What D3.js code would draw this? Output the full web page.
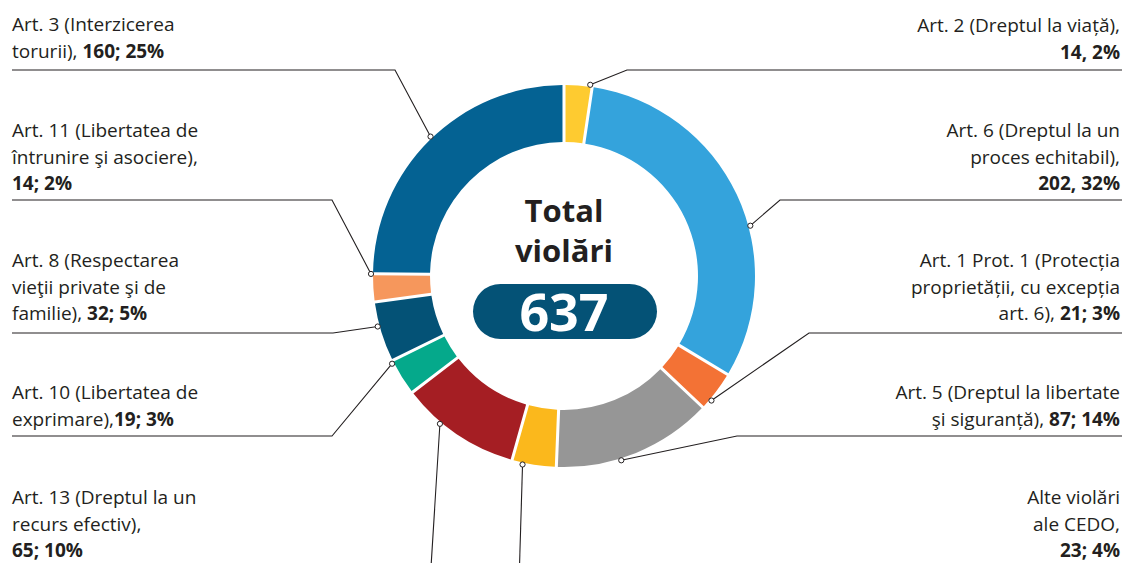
<!DOCTYPE html>
<html>
<head>
<meta charset="utf-8">
<script src="https://cdn.jsdelivr.net/npm/d3@7"></script>
<style>
  body { margin: 0; background: #fff; }
  svg { display: block; }
  text { font-family: "Open Sans", Lato, sans-serif; fill: #231f20; }
</style>
</head>
<body>
<div id="chart-area"></div>
<script>
// data, clockwise from 12 o'clock
const categories = ["Art. 2", "Art. 6", "Art. 1 Prot. 1", "Art. 5", "Alte violări",
                    "Art. 13", "Art. 10", "Art. 8", "Art. 11", "Art. 3"];
const values = [14, 202, 21, 87, 23, 65, 19, 32, 14, 160];
const colors = ["#fecb30", "#34a3dc", "#f37235", "#969696", "#fbb81c",
                "#a51e23", "#05a98b", "#045276", "#f6975c", "#046293"];
// label lines; the last entry is the text that goes before the bold value
const labelLines = [
  ["Art. 2 (Dreptul la viață),", ""],
  ["Art. 6 (Dreptul la un", "proces echitabil),", ""],
  ["Art. 1 Prot. 1 (Protecția", "proprietății, cu excepția", "art. 6), "],
  ["Art. 5 (Dreptul la libertate", "şi siguranță), "],
  ["Alte violări", "ale CEDO,", ""],
  ["Art. 13 (Dreptul la un", "recurs efectiv),", ""],
  ["Art. 10 (Libertatea de", "exprimare),"],
  ["Art. 8 (Respectarea", "vieţii private şi de", "familie), "],
  ["Art. 11 (Libertatea de", "întrunire şi asociere),", ""],
  ["Art. 3 (Interzicerea", "torurii), "]
];
const valueSeparators = [", ", ", ", "; ", "; ", "; ", "; ", "; ", "; ", "; ", "; "];
const totalTitle = ["Total", "violări"];

// layout of labels and leader lines
const leaders = [
  {side: "right", baseline: 32,  ruleY: 70,  elbowX: 627, frac: 0.92},
  {side: "right", baseline: 137, ruleY: 200, elbowX: 780, frac: 0.59},
  {side: "right", baseline: 267, ruleY: 333, elbowX: 809, frac: 0.74},
  {side: "right", baseline: 399, ruleY: 436, elbowX: 737, frac: 0.60},
  {side: "right", baseline: 504, dropX: 519, frac: 0.75},
  {side: "left",  baseline: 504, dropX: 430, frac: 0.66},
  {side: "left",  baseline: 399, ruleY: 436, elbowX: 332, frac: 0.93},
  {side: "left",  baseline: 267, ruleY: 333, elbowX: 333, frac: 0.60},
  {side: "left",  baseline: 137, ruleY: 200, elbowX: 332, frac: 0.99},
  {side: "left",  baseline: 31,  ruleY: 70,  elbowX: 395, frac: 0.51}
];

const width = 1124, height = 563;
const cx = 564, cy = 276, outerR = 191, innerR = 134;
const leftX = 12, rightX = 1120, ruleRight = 1122, lineH = 26.5;

let svg = d3.select("#chart-area")
            .append("svg")
            .attr("width", width)
            .attr("height", height);

const total = d3.sum(values);
const data = values.map(function(v, i) {
  return {name: categories[i], value: v, color: colors[i], i: i};
});

let pie = d3.pie()
            .sort(null)
            .value(function(d) { return d.value; })
            .padAngle(0.013);
let arc = d3.arc()
            .innerRadius(innerR)
            .outerRadius(outerR);
let arcs = pie(data);

let g = svg.append("g").attr("transform", "translate(" + cx + "," + cy + ")");

g.selectAll("path.slice")
  .data(arcs)
  .enter()
  .append("path")
  .attr("class", "slice")
  .attr("d", arc)
  .attr("fill", function(d) { return d.data.color; });

// leader lines
function anchor(d) {
  const L = leaders[d.data.i];
  const a = d.startAngle + L.frac * (d.endAngle - d.startAngle);
  const r = outerR + 2;
  return [cx + r * Math.sin(a), cy - r * Math.cos(a)];
}

svg.selectAll("path.leader")
  .data(arcs)
  .enter()
  .append("path")
  .attr("class", "leader")
  .attr("fill", "none")
  .attr("stroke", "#231f20")
  .attr("stroke-width", 1.1)
  .attr("d", function(d) {
    const L = leaders[d.data.i];
    const p = anchor(d);
    if (L.dropX !== undefined) {
      return d3.line()([p, [L.dropX, height + 20]]);
    }
    const end = L.side === "left" ? leftX : ruleRight;
    return d3.line()([p, [L.elbowX, L.ruleY], [end, L.ruleY]]);
  });

svg.selectAll("circle.dot")
  .data(arcs)
  .enter()
  .append("circle")
  .attr("class", "dot")
  .attr("cx", function(d) { return anchor(d)[0]; })
  .attr("cy", function(d) { return anchor(d)[1]; })
  .attr("r", 2.6)
  .attr("fill", "#fff")
  .attr("stroke", "#231f20")
  .attr("stroke-width", 1);

// labels
let labels = svg.selectAll("text.label")
  .data(data)
  .enter()
  .append("text")
  .attr("class", "label")
  .attr("font-size", 19)
  .attr("text-anchor", function(d) { return leaders[d.i].side === "left" ? "start" : "end"; });

labels.each(function(d) {
  const L = leaders[d.i];
  const lines = labelLines[d.i];
  const x = L.side === "left" ? leftX : rightX;
  const t = d3.select(this);
  lines.forEach(function(line, k) {
    const y = L.baseline + k * lineH;
    const last = k === lines.length - 1;
    const ts = t.append("tspan").attr("x", x).attr("y", y);
    if (line) ts.text(line);
    if (last) {
      const pct = Math.round(d.value / total * 100);
      const valueTs = line ? t.append("tspan") : ts;
      valueTs.attr("font-weight", "bold").text(d.value + valueSeparators[d.i] + pct + "%");
    }
  });
});

// centre
svg.append("text")
  .attr("x", cx).attr("y", 222)
  .attr("text-anchor", "middle")
  .attr("font-size", 31).attr("font-weight", "bold")
  .text(totalTitle[0]);
svg.append("text")
  .attr("x", cx).attr("y", 262)
  .attr("text-anchor", "middle")
  .attr("font-size", 31).attr("font-weight", "bold")
  .text(totalTitle[1]);

svg.append("rect")
  .attr("x", 473).attr("y", 284)
  .attr("width", 184).attr("height", 55)
  .attr("rx", 27.5)
  .attr("fill", "#045276");
svg.append("text")
  .attr("x", cx).attr("y", 331)
  .attr("text-anchor", "middle")
  .attr("font-size", 52).attr("font-weight", "bold")
  .style("fill", "#fff")
  .text(total);
</script>
</body>
</html>
